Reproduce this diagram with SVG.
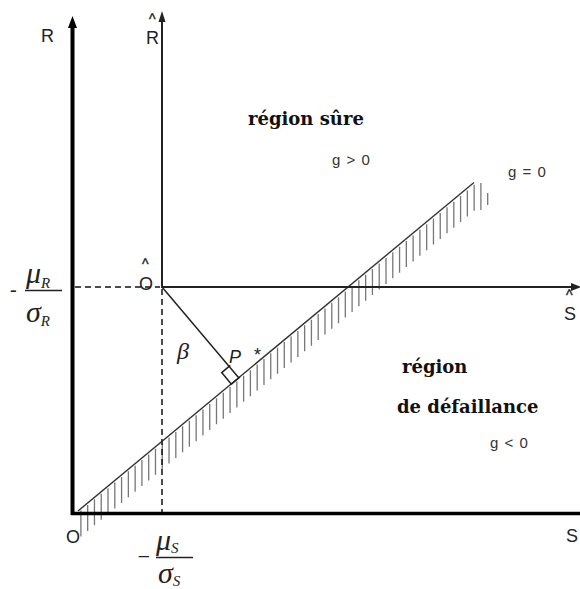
<svg xmlns="http://www.w3.org/2000/svg" width="580" height="589" viewBox="0 0 580 589">
<style>
.ax{stroke:#000;fill:none}
.dash{stroke:#111;stroke-width:1.5;stroke-dasharray:6 4;fill:none}
.hatch{stroke:#777;stroke-width:1.3;fill:none}
.lab{font-family:"Liberation Sans",Arial,sans-serif;font-size:18px;fill:#222}
.hat{font-family:"Liberation Sans",Arial,sans-serif;font-size:14px;fill:#222;stroke:#222;stroke-width:0.4}
.g{font-family:"Liberation Sans",Arial,sans-serif;font-size:15px;fill:#333;letter-spacing:1px}
.reg{font-family:"DejaVu Serif","Liberation Serif",serif;font-weight:bold;font-size:18px;fill:#111}
.math{font-family:"Liberation Serif","Times New Roman",serif;font-style:italic;fill:#222}
</style>
<rect width="580" height="589" fill="#fff"/>
<g id="hatching">
<path class="hatch" d="M80.9,510.6v26m6.78-31.616v26m6.78-31.616v26m6.78-31.616v26m6.78-31.616v26m6.78-31.616v26m6.78-31.616v26m6.78-31.616v26m6.78-31.616v26m6.78-31.616v26m6.78-31.616v26m6.78-31.616v26m6.78-31.616v26m6.78-31.616v26m6.78-31.616v26m6.78-31.616v26m6.78-31.616v26m6.78-31.616v26m6.78-31.616v26m6.78-31.616v26m6.78-31.616v26m6.78-31.616v26m6.78-31.616v26m6.78-31.616v26m6.78-31.616v26m6.78-31.616v26m6.78-31.616v26m6.78-31.616v26m6.78-31.616v26m6.78-31.616v26m6.78-31.616v26m6.78-31.616v26m6.78-31.616v26m6.78-31.616v26m6.78-31.616v26m6.78-31.616v26m6.78-31.616v26m6.78-31.616v26m6.78-31.616v26m6.78-31.616v26m6.78-31.616v26m6.78-31.616v26m6.78-31.616v26m6.78-31.616v26m6.78-31.616v26m6.78-31.616v26m6.78-31.616v26m6.78-31.616v26m6.78-31.616v26m6.78-31.616v26m6.78-31.616v26m6.78-31.616v26m6.78-31.616v26m6.78-31.616v26m6.78-31.616v26m6.78-31.616v26m6.78-31.616v26m6.78-31.616v26m6.78-31.616v26M480.9,183v27M487.7,193v12"/>
</g>
<g id="connectors">
<line class="dash" x1="75" y1="287" x2="160" y2="287"/>
<line class="dash" x1="162" y1="289" x2="162" y2="512"/>
<line x1="78" y1="511" x2="474" y2="182.5" stroke="#333" stroke-width="1.4"/>
<line x1="162" y1="287" x2="238.5" y2="377.5" stroke="#222" stroke-width="1.5"/>
<path d="M240,377 L231.4,384.2 L221.7,372.6 L230.3,365.4" fill="none" stroke="#222" stroke-width="1.5"/>
<line class="ax" x1="72.5" y1="25" x2="72.5" y2="515" stroke-width="4"/>
<polygon points="72.5,16 68,28 77,28" fill="#000"/>
<line class="ax" x1="71" y1="513.5" x2="580" y2="513.5" stroke-width="3.5"/>
<line x1="162" y1="20" x2="162" y2="288" stroke="#222" stroke-width="2"/>
<polygon points="162,11 158.5,22 165.5,22" fill="#222"/>
<line x1="161" y1="287" x2="574" y2="287" stroke="#222" stroke-width="2"/>
<polygon points="581,287 571,283 571,291" fill="#222"/>
</g>
<g id="axis-labels">
<text class="lab" x="41" y="42">R</text>
<text class="lab" x="146" y="44">R</text>
<text class="hat" x="149" y="24">^</text>
<text class="lab" x="139" y="290" font-size="19">O</text>
<text class="hat" x="142" y="269">^</text>
<text class="lab" x="564" y="320">S</text>
<text class="hat" x="566" y="300" font-size="13">^</text>
<text class="lab" x="66" y="543">O</text>
<text class="lab" x="566" y="542">S</text>
</g>
<g id="frac-R">
<text class="math" x="10" y="296" font-size="20" font-style="normal">-</text>
<text class="math" x="26" y="283" font-size="30">μ<tspan font-size="15" dy="5">R</tspan></text>
<line x1="25" y1="290.5" x2="62" y2="290.5" stroke="#222" stroke-width="1.5"/>
<text class="math" x="26" y="322" font-size="30">σ<tspan font-size="15" dy="4">R</tspan></text>
</g>
<g id="frac-S">
<text class="math" x="136" y="564" font-size="22" font-style="normal">−</text>
<text class="math" x="156" y="550" font-size="30">μ<tspan font-size="15" dy="3">S</tspan></text>
<line x1="156" y1="557.5" x2="193" y2="557.5" stroke="#222" stroke-width="1.5"/>
<text class="math" x="158" y="583" font-size="30">σ<tspan font-size="15" dy="3">S</tspan></text>
</g>
<g id="beta">
<text class="math" x="177" y="359" font-size="24">β</text>
</g>
<g id="pstar">
<text class="lab" x="229" y="363" font-size="21" font-style="italic">P</text>
<text class="lab" x="254" y="361" font-size="14">*</text>
</g>
<g id="safe-region">
<text class="reg" x="248" y="125">région sûre</text>
<text class="g" x="332" y="165">g &gt; 0</text>
</g>
<g id="limit-state">
<text class="g" x="508" y="177">g = 0</text>
</g>
<g id="failure-region">
<text class="reg" x="402" y="373">région</text>
<text class="reg" x="397" y="413">de défaillance</text>
<text class="g" x="490" y="448">g &lt; 0</text>
</g>
</svg>
